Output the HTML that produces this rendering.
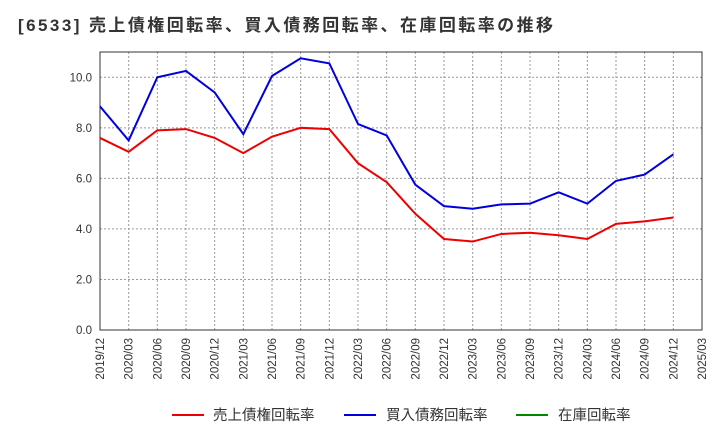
<!DOCTYPE html>
<html><head><meta charset="utf-8">
<style>
body{margin:0;background:#fff;font-family:"Liberation Sans","Noto Sans CJK JP",sans-serif;}
svg text{font-family:"Liberation Sans","Noto Sans CJK JP",sans-serif;}
</style></head>
<body>
<svg width="720" height="440" xmlns="http://www.w3.org/2000/svg" id="chart">
<text x="18" y="31" font-size="17" font-weight="bold" fill="#333" textLength="535" lengthAdjust="spacing">[6533]  売上債権回転率、買入債務回転率、在庫回転率の推移</text>
<g id="grid"></g>
<g id="axes"></g>
<g id="series"></g>
<g>
<line x1="172" y1="415" x2="204" y2="415" stroke="#e00" stroke-width="2"/>
<text x="213" y="420" font-size="14.5" fill="#333">売上債権回転率</text>
<line x1="344" y1="415" x2="376" y2="415" stroke="#00d" stroke-width="2"/>
<text x="386" y="420" font-size="14.5" fill="#333">買入債務回転率</text>
<line x1="516" y1="415" x2="548" y2="415" stroke="#080" stroke-width="2"/>
<text x="558" y="420" font-size="14.5" fill="#333">在庫回転率</text>
</g>
</svg>
<script>
const categories=["2019/12","2020/03","2020/06","2020/09","2020/12","2021/03","2021/06","2021/09","2021/12","2022/03","2022/06","2022/09","2022/12","2023/03","2023/06","2023/09","2023/12","2024/03","2024/06","2024/09","2024/12","2025/03"];
const receivables=[7.6,7.05,7.9,7.95,7.6,7.0,7.65,8.0,7.95,6.6,5.85,4.6,3.6,3.5,3.8,3.85,3.75,3.6,4.2,4.3,4.45];
const payables=[8.85,7.5,10.0,10.25,9.4,7.75,10.05,10.75,10.55,8.15,7.7,5.75,4.9,4.8,4.97,5.0,5.45,5.0,5.9,6.15,6.95];
const yTicks=[0,2,4,6,8,10];
const X0=100,X1=702,Y0=330,Y1=52,YMAX=11;
const NS="http://www.w3.org/2000/svg";
function xs(i){return X0+(X1-X0)*i/(categories.length-1);}
function ys(v){return Y0-(Y0-Y1)*v/YMAX;}
function mk(tag,attrs,parent){const e=document.createElementNS(NS,tag);for(const k in attrs)e.setAttribute(k,attrs[k]);parent.appendChild(e);return e;}
const grid=document.getElementById('grid'),axes=document.getElementById('axes'),series=document.getElementById('series');
yTicks.forEach(v=>{
 const l=mk('line',{x1:X0,x2:X1,y1:ys(v),y2:ys(v),stroke:'#999','stroke-dasharray':'2,2'},grid);
 
 
 const t=mk('text',{x:X0-8,y:ys(v)+4,'text-anchor':'end','font-size':'11.5',fill:'#333'},axes);
 t.textContent=v.toFixed(1);
 
 
});
categories.forEach((c,i)=>{
 const l=mk('line',{x1:xs(i),x2:xs(i),y1:Y1,y2:Y0,stroke:'#999','stroke-dasharray':'2,2'},grid);
 
 
 const t=mk('text',{x:0,y:0,'text-anchor':'end','font-size':'11.5',fill:'#333',transform:`translate(${xs(i)+4},${Y0+8}) rotate(-90)`},axes);
 t.textContent=c;
 
 
});
const frame=mk('rect',{x:X0,y:Y1,width:X1-X0,height:Y0-Y1,fill:'none',stroke:'#333','stroke-width':1},axes);


function line(data,color,name){
 const p=mk('polyline',{points:data.map((v,i)=>xs(i)+','+ys(v)).join(' '),fill:'none',stroke:color,'stroke-width':2},series);
 
 
}
line(receivables,'#e00','receivables-turnover-line');
line(payables,'#00d','payables-turnover-line');
</script>
</body></html>
